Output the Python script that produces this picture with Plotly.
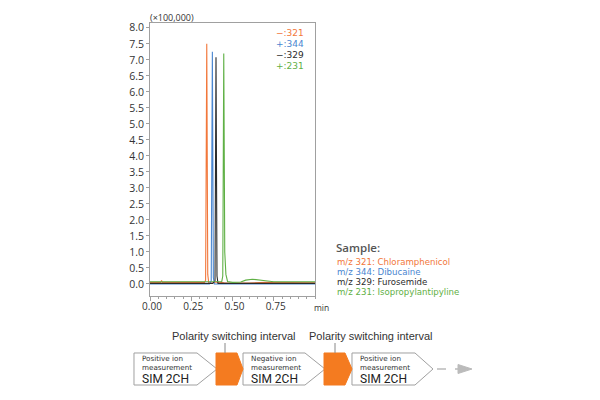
import plotly.graph_objects as go

# ---------------- data ----------------
t_321 = [0.0, 0.05, 0.065, 0.07, 0.075, 0.10, 0.20, 0.30, 0.33, 0.337, 0.344, 0.350, 0.356, 0.38, 0.40, 0.45, 0.50, 0.60, 0.70, 0.80, 0.90, 1.0]
i_321 = [0.05, 0.05, 0.05, 0.11, 0.05, 0.05, 0.05, 0.05, 0.05, 0.12, 7.50, 0.30, 0.03, 0.03, 0.06, 0.04, 0.03, 0.03, 0.05, 0.04, 0.04, 0.04]

t_344 = [0.0, 0.10, 0.20, 0.30, 0.36, 0.371, 0.378, 0.384, 0.39, 0.45, 0.50, 0.60, 0.70, 0.80, 0.90, 1.0]
i_344 = [0.0, 0.0, 0.0, 0.0, 0.0, 0.10, 7.25, 0.20, 0.0, 0.0, 0.0, 0.0, 0.0, 0.0, 0.0, 0.0]

t_329 = [0.0, 0.10, 0.20, 0.30, 0.38, 0.394, 0.400, 0.406, 0.412, 0.45, 0.50, 0.60, 0.70, 0.80, 0.90, 1.0]
i_329 = [0.02, 0.02, 0.02, 0.02, 0.02, 0.10, 7.08, 0.25, 0.02, 0.02, 0.02, 0.02, 0.02, 0.02, 0.02, 0.02]

t_231 = [0.0, 0.10, 0.20, 0.30, 0.40, 0.435, 0.441, 0.447, 0.453, 0.46, 0.47, 0.50, 0.55, 0.58, 0.62, 0.65, 0.70, 0.75, 0.80, 0.90, 1.0]
i_231 = [0.07, 0.07, 0.07, 0.07, 0.07, 0.08, 0.25, 7.20, 1.00, 0.30, 0.08, 0.05, 0.06, 0.12, 0.15, 0.14, 0.10, 0.07, 0.07, 0.07, 0.07]

series_names = ["−:321", "+:344", "−:329", "+:231"]
series_colors = ["#f2773a", "#4a86d0", "#2b2b2b", "#5fb045"]
sample_labels = ["m/z 321: Chloramphenicol", "m/z 344: Dibucaine",
                 "m/z 329: Furosemide", "m/z 231: Isopropylantipyline"]
x_ticks = [0.0, 0.25, 0.5, 0.75]
y_ticks = [0.0, 0.5, 1.0, 1.5, 2.0, 2.5, 3.0, 3.5, 4.0, 4.5, 5.0, 5.5, 6.0, 6.5, 7.0, 7.5, 8.0]
steps = [("Positive ion", "measurement", "SIM 2CH"),
         ("Negative ion", "measurement", "SIM 2CH"),
         ("Positive ion", "measurement", "SIM 2CH")]
switch_label = "Polarity switching interval"

# ---------------- layout geometry ----------------
W, H = 600, 400
ML, MR, MT, MB = 150, 285, 23, 104
PW, PH = W - ML - MR, H - MT - MB


def px(x):
    return (x - ML) / PW


def py(y):
    return (H - MB - y) / PH


def note(x, y, text, size, color, family, xanchor="left", weight="normal"):
    return dict(xref="paper", yref="paper", x=px(x), y=py(y), text=text, showarrow=False,
                xanchor=xanchor, yanchor="middle", borderpad=0,
                font=dict(size=size, color=color, family=family, weight=weight))


fig = go.Figure()
for t, v, c, n in zip([t_321, t_344, t_329, t_231], [i_321, i_344, i_329, i_231],
                      series_colors, series_names):
    fig.add_trace(go.Scatter(x=t, y=v, mode="lines", name=n,
                             line=dict(color=c, width=1.1), showlegend=False))

shapes = []
annotations = []

# in-plot legend
for k, (n, c) in enumerate(zip(series_names, series_colors)):
    annotations.append(note(274.5, 33 + 11 * k, n, 9, c, "DejaVu Sans"))

annotations.append(note(149, 17, "(×100,000)", 9, "#333", "Open Sans"))
annotations.append(note(313, 307, "min", 8.5, "#333", "Open Sans"))

# sample legend
annotations.append(note(334.5, 247, "Sample:", 11.5, "#555", "Open Sans", weight=600))
for k, (lab, c) in enumerate(zip(sample_labels, series_colors)):
    annotations.append(note(336, 261.7 + 10 * k, lab, 8.6, c, "DejaVu Sans"))


def pent(x0, x1, xt, y0, y1, fill, line):
    ym = (y0 + y1) / 2
    pts = [(x0, y0), (x1, y0), (xt, ym), (x1, y1), (x0, y1)]
    d = "M " + " L ".join(f"{px(a):.5f},{py(b):.5f}" for a, b in pts) + " Z"
    return dict(type="path", xref="paper", yref="paper", path=d,
                fillcolor=fill, line=dict(color=line, width=1))


Y0, Y1 = 353, 385
white_boxes = [(134, 197, 217), (243, 305, 325), (352, 415, 433)]
orange_boxes = [(216, 237, 243), (324, 345, 352)]
for b in white_boxes:
    shapes.append(pent(b[0], b[1], b[2], Y0, Y1, "white", "#a0a0a0"))
for b in orange_boxes:
    shapes.append(pent(b[0], b[1], b[2], Y0, Y1, "#f47b20", "#f47b20"))

for (x0, _, _), (l1, l2, l3) in zip(white_boxes, steps):
    annotations.append(note(x0 + 6.5, 358.6, l1, 7.2, "#333", "DejaVu Sans"))
    annotations.append(note(x0 + 6.5, 367.2, l2, 7.2, "#333", "DejaVu Sans"))
    annotations.append(note(x0 + 6.5, 378.7, l3, 12, "#222", "Roboto"))

for cx, lx in [(234, 225), (371, 335)]:
    annotations.append(note(cx, 336, switch_label, 11, "#333", "Liberation Sans", xanchor="center"))
    shapes.append(dict(type="line", xref="paper", yref="paper", x0=px(lx), x1=px(lx),
                       y0=py(343), y1=py(353), line=dict(color="#888", width=1)))

# dashed arrow
shapes.append(dict(type="line", xref="paper", yref="paper", x0=px(437), x1=px(458),
                   y0=py(369), y1=py(369), line=dict(color="#bbbbbb", width=1.5, dash="dash")))
shapes.append(dict(type="path", xref="paper", yref="paper",
                   path=f"M {px(458)},{py(364.5)} L {px(472)},{py(369)} L {px(458)},{py(373.5)} Z",
                   fillcolor="#bbbbbb", line=dict(color="#bbbbbb", width=1)))

fig.update_layout(
    width=W, height=H, margin=dict(l=ML, r=MR, t=MT, b=MB),
    paper_bgcolor="white", plot_bgcolor="white",
    shapes=shapes, annotations=annotations, showlegend=False,
    font=dict(family="Open Sans", color="#333"),
)
fig.update_xaxes(range=[0, 1.0], tickvals=x_ticks, ticktext=[f"{v:.2f}" for v in x_ticks],
                 showgrid=False, zeroline=False, showline=True, linecolor="#a0a0a0", linewidth=1,
                 mirror=True, ticks="outside", ticklen=4, tickcolor="#a0a0a0",
                 ticklabelstandoff=-3, ticklabelshift=2,
                 tickfont=dict(size=10, color="#333"),
                 minor=dict(dtick=0.05, tick0=0, ticks="outside", ticklen=2, tickcolor="#a0a0a0"))
fig.update_yaxes(range=[-0.375, 8.15], tickvals=y_ticks, ticktext=[f"{v:.1f}" for v in y_ticks],
                 showgrid=False, zeroline=False, showline=True, linecolor="#a0a0a0", linewidth=1,
                 mirror=True, ticks="outside", ticklen=3, tickcolor="#a0a0a0",
                 tickfont=dict(size=10.5, color="#333"))

fig.write_html("out.html")
